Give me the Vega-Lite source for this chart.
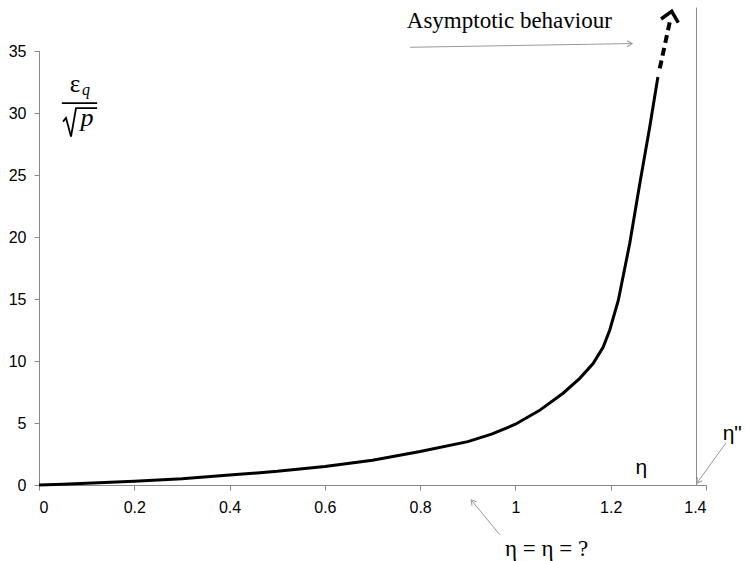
{
  "$schema": "https://vega.github.io/schema/vega-lite/v6.json",
  "width": 667,
  "height": 434,
  "autosize": "none",
  "padding": {"left": 39, "top": 51, "right": 39, "bottom": 76},
  "background": "white",
  "config": {
    "view": {"stroke": null},
    "axis": {"title": null, "grid": false, "domainColor": "#888888", "tickColor": "#888888", "tickSize": 5,
      "labelFont": "Liberation Sans", "labelFontSize": 16, "labelColor": "black"},
    "axisX": {"labelPadding": 9},
    "axisY": {"labelPadding": 8}
  },
  "datasets": {
    "curve": [
      {"x": 0, "y": 0}, {"x": 0.05, "y": 0.07}, {"x": 0.1, "y": 0.15}, {"x": 0.2, "y": 0.3},
      {"x": 0.3, "y": 0.5}, {"x": 0.4, "y": 0.8}, {"x": 0.5, "y": 1.1}, {"x": 0.6, "y": 1.5},
      {"x": 0.7, "y": 2.0}, {"x": 0.8, "y": 2.7}, {"x": 0.9, "y": 3.5}, {"x": 0.95, "y": 4.1},
      {"x": 1.0, "y": 4.9}, {"x": 1.05, "y": 6.0}, {"x": 1.1, "y": 7.4}, {"x": 1.135, "y": 8.6},
      {"x": 1.163, "y": 9.8}, {"x": 1.184, "y": 11.1}, {"x": 1.198, "y": 12.5}, {"x": 1.216, "y": 14.9},
      {"x": 1.24, "y": 19.5}, {"x": 1.261, "y": 24.3}, {"x": 1.282, "y": 28.9}, {"x": 1.299, "y": 32.9}
    ],
    "dash": [{"x": 1.303, "y": 33.6}, {"x": 1.326, "y": 37.7}],
    "vline": [{"x": 1.38, "y": 0}, {"x": 1.38, "y": 38.5}],
    "arrows": [
      {"x": 0.779, "y": 35.3, "x2": 1.245, "y2": 35.6, "angle": -2},
      {"x": 1.442, "y": 3.4, "x2": 1.381, "y2": 0.15, "angle": 125.7},
      {"x": 0.967, "y": -4.0, "x2": 0.907, "y2": -1.2, "angle": 230.4}
    ],
    "tip": [{"x": 1.328, "y": 38.2, "angle": 282}],
    "serifLabels": [
      {"x": 0.772, "y": 36.85, "t": "Asymptotic behaviour"},
      {"x": 0.978, "y": -5.7, "t": "η = η = ?"}
    ],
    "sansLabels": [
      {"x": 1.252, "y": 0.85, "t": "η"},
      {"x": 1.435, "y": 3.6, "t": "η\""}
    ],
    "sqrt": [
      {"o": 1, "x": 0.0504, "y": 29.3}, {"o": 2, "x": 0.0567, "y": 29.6}, {"o": 3, "x": 0.0672, "y": 28.1},
      {"o": 4, "x": 0.0777, "y": 30.4}, {"o": 5, "x": 0.122, "y": 30.4}
    ]
  },
  "layer": [
    {
      "data": {"name": "vline"},
      "mark": {"type": "line", "color": "#888888", "strokeWidth": 1, "clip": false},
      "encoding": {
        "x": {"field": "x", "type": "quantitative", "scale": {"domain": [0, 1.4]},
          "axis": {"values": [0, 0.2, 0.4, 0.6, 0.8, 1, 1.2, 1.4], "format": "~g"}},
        "y": {"field": "y", "type": "quantitative", "scale": {"domain": [0, 35]},
          "axis": {"values": [0, 5, 10, 15, 20, 25, 30, 35]}}
      }
    },
    {
      "data": {"name": "curve"},
      "mark": {"type": "line", "color": "black", "strokeWidth": 3, "clip": false},
      "encoding": {
        "x": {"field": "x", "type": "quantitative"},
        "y": {"field": "y", "type": "quantitative"}
      }
    },
    {
      "data": {"name": "dash"},
      "mark": {"type": "line", "color": "black", "strokeWidth": 4, "strokeDash": [8, 5], "clip": false},
      "encoding": {
        "x": {"field": "x", "type": "quantitative"},
        "y": {"field": "y", "type": "quantitative"}
      }
    },
    {
      "data": {"name": "tip"},
      "mark": {"type": "point", "shape": "M-1,-0.9L0,0L-1,0.9", "filled": false, "stroke": "black", "opacity": 1, "strokeOpacity": 1, "strokeWidth": 3.5, "strokeJoin": "miter", "size": 380, "clip": false},
      "encoding": {
        "x": {"field": "x", "type": "quantitative"},
        "y": {"field": "y", "type": "quantitative"},
        "angle": {"field": "angle", "type": "quantitative", "scale": null}
      }
    },
    {
      "data": {"name": "arrows"},
      "mark": {"type": "rule", "color": "#999999", "strokeWidth": 1, "clip": false},
      "encoding": {
        "x": {"field": "x", "type": "quantitative"},
        "y": {"field": "y", "type": "quantitative"},
        "x2": {"field": "x2"},
        "y2": {"field": "y2"}
      }
    },
    {
      "data": {"name": "arrows"},
      "mark": {"type": "point", "shape": "M-1,-0.6L0,0L-1,0.6", "filled": false, "stroke": "#999999", "opacity": 1, "strokeOpacity": 1, "strokeWidth": 1, "size": 100, "clip": false},
      "encoding": {
        "x": {"field": "x2", "type": "quantitative"},
        "y": {"field": "y2", "type": "quantitative"},
        "angle": {"field": "angle", "type": "quantitative", "scale": null}
      }
    },
    {
      "data": {"name": "serifLabels"},
      "mark": {"type": "text", "font": "Liberation Serif", "fontSize": 23, "color": "black", "align": "left", "baseline": "alphabetic", "clip": false},
      "encoding": {
        "x": {"field": "x", "type": "quantitative"},
        "y": {"field": "y", "type": "quantitative"},
        "text": {"field": "t"}
      }
    },
    {
      "data": {"name": "sansLabels"},
      "mark": {"type": "text", "font": "Liberation Sans", "fontSize": 21, "color": "black", "align": "left", "baseline": "alphabetic", "clip": false},
      "encoding": {
        "x": {"field": "x", "type": "quantitative"},
        "y": {"field": "y", "type": "quantitative"},
        "text": {"field": "t"}
      }
    },
    {
      "data": {"values": [{"x": 0.0756, "y": 31.7, "t": "ε"}]},
      "mark": {"type": "text", "font": "Liberation Serif", "fontSize": 25, "color": "black", "align": "center", "baseline": "alphabetic", "clip": false},
      "encoding": {
        "x": {"field": "x", "type": "quantitative"},
        "y": {"field": "y", "type": "quantitative"},
        "text": {"field": "t"}
      }
    },
    {
      "data": {"values": [{"x": 0.0986, "y": 31.45, "t": "q"}]},
      "mark": {"type": "text", "font": "Liberation Serif", "fontStyle": "italic", "fontSize": 16, "color": "black", "align": "center", "baseline": "alphabetic", "clip": false},
      "encoding": {
        "x": {"field": "x", "type": "quantitative"},
        "y": {"field": "y", "type": "quantitative"},
        "text": {"field": "t"}
      }
    },
    {
      "data": {"values": [{"x": 0.1007, "y": 28.95, "t": "p"}]},
      "mark": {"type": "text", "font": "Liberation Serif", "fontStyle": "italic", "fontSize": 26, "color": "black", "align": "center", "baseline": "alphabetic", "clip": false},
      "encoding": {
        "x": {"field": "x", "type": "quantitative"},
        "y": {"field": "y", "type": "quantitative"},
        "text": {"field": "t"}
      }
    },
    {
      "data": {"name": "sqrt"},
      "mark": {"type": "line", "color": "black", "strokeWidth": 1.8, "strokeJoin": "miter", "clip": false},
      "encoding": {
        "x": {"field": "x", "type": "quantitative"},
        "y": {"field": "y", "type": "quantitative"},
        "order": {"field": "o", "type": "quantitative"}
      }
    },
    {
      "data": {"values": [{"x": 0.048, "y": 30.8, "x2": 0.122}]},
      "mark": {"type": "rule", "color": "black", "strokeWidth": 1.6, "clip": false},
      "encoding": {
        "x": {"field": "x", "type": "quantitative"},
        "y": {"field": "y", "type": "quantitative"},
        "x2": {"field": "x2"}
      }
    }
  ]
}
